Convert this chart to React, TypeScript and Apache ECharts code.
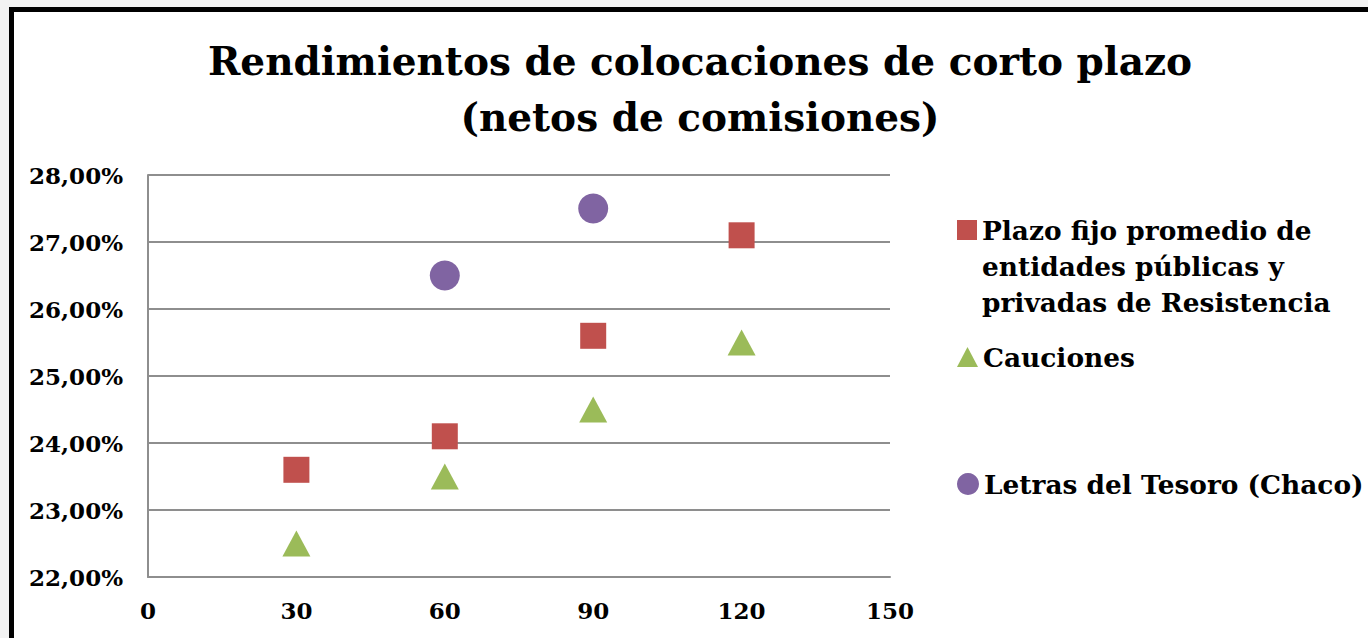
import React, { useEffect, useRef } from 'react';
import * as echarts from 'echarts';

const titleLines = ['Rendimientos de colocaciones de corto plazo', '(netos de comisiones)'];
const plazos = [30, 60, 90, 120];
const plazoFijo = [23.6, 24.1, 25.6, 27.1];
const cauciones = [22.5, 23.5, 24.5, 25.5];
const letrasPlazos = [60, 90];
const letras = [26.5, 27.5];
const seriesNames = [
  'Plazo fijo promedio de\nentidades públicas y\nprivadas de Resistencia',
  'Cauciones',
  'Letras del Tesoro (Chaco)',
];
const seriesColors = ['#C0504D', '#9BBB59', '#8064A2'];
const yMin = 22;
const yMax = 28;
const xMin = 0;
const xMax = 150;

const FONT = '"DejaVu Serif", serif';

export default function App() {
  const ref = useRef<HTMLDivElement>(null);
  useEffect(() => {
    if (!ref.current) return;
    const chart = echarts.init(ref.current, null, { renderer: 'svg' });
    const pair = (xs: number[], ys: number[]) => xs.map((x, i) => [x, ys[i]]);
    const legendText = {
      fontFamily: FONT,
      fontWeight: 'bold',
      fontSize: 26.4,
      color: '#000',
      lineHeight: 36,
    };
    chart.setOption({
      animation: false,
      backgroundColor: '#f2f2f2',
      graphic: [
        {
          type: 'rect',
          z: -10,
          shape: { x: 11.5, y: 9.5, width: 1420, height: 700 },
          style: { fill: '#ffffff', stroke: '#000000', lineWidth: 5 },
        },
      ],
      title: {
        text: titleLines.join('\n'),
        left: 700,
        top: 33,
        textAlign: 'center',
        padding: 0,
        textStyle: {
          fontFamily: FONT,
          fontWeight: 'bold',
          fontSize: 39,
          lineHeight: 56,
          color: '#000',
        },
      },
      grid: { left: 148, right: 478, top: 175, bottom: 61 },
      xAxis: {
        type: 'value',
        min: xMin,
        max: xMax,
        interval: 30,
        axisLine: { show: true, lineStyle: { color: '#8e8e8e', width: 2 } },
        axisTick: { show: false },
        splitLine: { show: false },
        axisLabel: {
          margin: 22,
          fontFamily: FONT,
          fontWeight: 'bold',
          fontSize: 23,
          color: '#000',
        },
      },
      yAxis: {
        type: 'value',
        min: yMin,
        max: yMax,
        interval: 1,
        axisLine: { show: true, lineStyle: { color: '#8e8e8e', width: 2 } },
        axisTick: { show: false },
        splitLine: { show: true, lineStyle: { color: '#8e8e8e', width: 2 } },
        axisLabel: {
          margin: 25,
          fontFamily: FONT,
          fontWeight: 'bold',
          fontSize: 23,
          color: '#000',
          formatter: (v: number) => v.toFixed(2).replace('.', ',') + '%',
        },
      },
      legend: [
        {
          data: [seriesNames[0]],
          left: 957,
          top: 140,
          itemWidth: 20,
          itemHeight: 20,
          padding: 0,
          icon: 'rect',
          formatter: (name: string) => '\n\n' + name,
          textStyle: legendText,
        },
        {
          data: [seriesNames[1]],
          left: 957,
          top: 339,
          itemWidth: 21,
          itemHeight: 20,
          padding: 0,
          icon: 'triangle',
          textStyle: legendText,
        },
        {
          data: [seriesNames[2]],
          left: 957,
          top: 466,
          itemWidth: 22,
          itemHeight: 22,
          padding: 0,
          icon: 'circle',
          textStyle: legendText,
        },
      ],
      series: [
        {
          name: seriesNames[0],
          type: 'scatter',
          symbol: 'rect',
          symbolSize: 26,
          itemStyle: { color: seriesColors[0], opacity: 1 },
          data: pair(plazos, plazoFijo),
        },
        {
          name: seriesNames[1],
          type: 'scatter',
          symbol: 'triangle',
          symbolSize: [28, 26],
          itemStyle: { color: seriesColors[1], opacity: 1 },
          data: pair(plazos, cauciones),
        },
        {
          name: seriesNames[2],
          type: 'scatter',
          symbol: 'circle',
          symbolSize: 30,
          itemStyle: { color: seriesColors[2], opacity: 1 },
          data: pair(letrasPlazos, letras),
        },
      ],
    });
    return () => chart.dispose();
  }, []);
  return (
    <div
      ref={ref}
      style={{ position: 'fixed', left: 0, top: 0, width: 1368, height: 638 }}
    />
  );
}
